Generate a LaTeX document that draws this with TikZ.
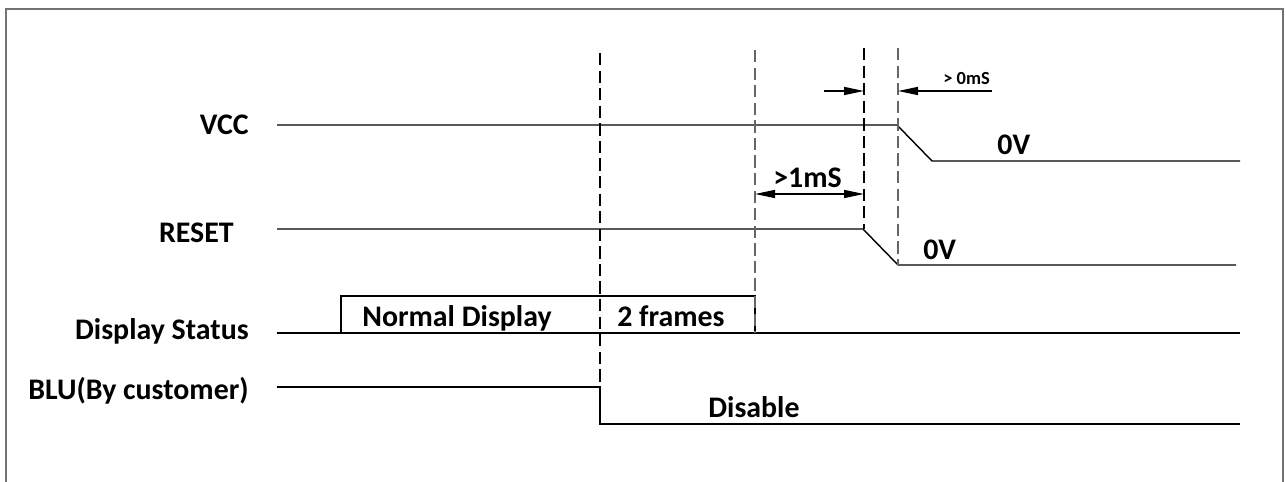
\documentclass[tikz,border=0pt]{standalone}
\usepackage{fontspec}
\setmainfont{Carlito}
\usetikzlibrary{arrows.meta,positioning}

\begin{document}
\begin{tikzpicture}[x=0.02cm,y=-0.02cm,
  sig/.style={line width=0.8pt,black},
  guide/.style={line width=0.8pt,dash pattern=on 7pt off 3pt},
  lbl/.style={inner sep=0pt,font=\fontsize{17}{20}\selectfont\bfseries},
  small/.style={inner sep=0pt,font=\fontsize{10.5}{12}\selectfont\bfseries},
  ar/.style={-{Triangle[length=0.4cm,width=0.16cm]},line width=0.8pt}]
  \useasboundingbox (0,0) rectangle (1286,482);
  \draw[black!55,line width=1.5pt] (6,482) -- (6,9) -- (1283,9) -- (1283,482);
  \node[lbl,anchor=base east] (vcc) at (249,135) {VCC};
  \node[lbl,anchor=base east] (reset) at (234,243) {RESET};
  \node[lbl,anchor=base east] (status) at (249,340) {Display Status};
  \node[lbl,anchor=base east] (blu) at (249,400) {BLU(By customer)};
  \coordinate (pwroff) at (898,48);
  \coordinate (rstoff) at (864,48);
  \coordinate (dispoff) at (755,50);
  \coordinate (bluoff) at (600,53);
  \draw[sig] (277,125) -- (897,125) -- (932,161) -- (1240,161);
  \draw[sig] (277,229) -- (863,229) -- (898,265) -- (1236,265);
  \draw[sig] (277,333) -- (1240,333);
  \draw[sig] (341,333) -- (341,296) -- (755,296) -- (755,333);
  \draw[sig] (277,387) -- (600,387) -- (600,424) -- (1240,424);
  \draw[guide] (bluoff) -- (600,424);
  \draw[guide,black!60] (dispoff) -- (755,333);
  \draw[guide] (rstoff) -- (864,229);
  \draw[guide,black!60] (pwroff) -- (898,265);
  \draw[ar,{Triangle[length=0.4cm,width=0.16cm]}-{Triangle[length=0.4cm,width=0.16cm]}] (755,194) -- (864,194);
  \draw[ar] (824,91) -- (864,91);
  \draw[ar] (992,91) -- (898,91);
  \node[lbl,anchor=base west] (normal) at (362,327) {Normal Display};
  \node[lbl,anchor=base west] (frames) at (617,327) {2 frames};
  \node[lbl,anchor=base west] (vcclow) at (997,155) {0V};
  \node[lbl,anchor=base west] (rstlow) at (923,260) {0V};
  \node[lbl,anchor=base west] (disable) at (708,418) {Disable};
  \node[lbl,anchor=base west] (onems) at (773,188) {>1mS};
  \node[small,anchor=base west] (zeroms) at (943,85) {> 0mS};
\end{tikzpicture}
\end{document}
